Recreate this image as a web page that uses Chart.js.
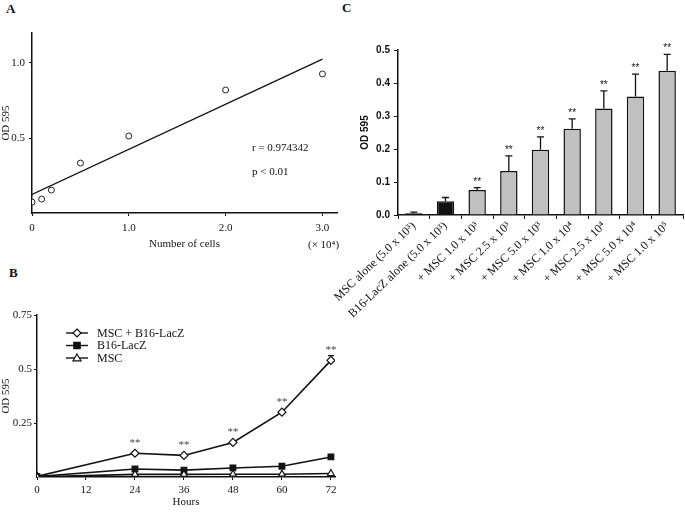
<!DOCTYPE html>
<html>
<head>
<meta charset="utf-8">
<script src="https://cdn.jsdelivr.net/npm/chart.js@4.4.1/dist/chart.umd.min.js"></script>
<style>
  html, body { margin: 0; padding: 0; background: #fff; }
  body { width: 685px; height: 513px; position: relative; overflow: hidden; }
  canvas { position: absolute; }
  .tag { position: absolute; font: bold 13px "Liberation Serif", serif; color: #111; }
</style>
</head>
<body>
<div class="tag" style="left:6px;top:1px">A</div>
<div class="tag" style="left:9px;top:265px">B</div>
<div class="tag" style="left:342px;top:0px">C</div>
<canvas id="chartA" width="345" height="255" style="left:0;top:0"></canvas>
<canvas id="chartB" width="345" height="258" style="left:0;top:255px"></canvas>
<canvas id="chartC" width="365" height="330" style="left:320px;top:0"></canvas>
<script>
// panel A: standard curve
const cellCounts = [0, 0.1, 0.2, 0.5, 1.0, 2.0, 3.0];
const odCells = [0.073, 0.093, 0.153, 0.333, 0.513, 0.82, 0.927];
const cellTicks = [0, 1, 2, 3];
const odTicksA = [0.5, 1.0];

// panel B: time course
const hours = [0, 24, 36, 48, 60, 72];
const odCoculture = [0.003, 0.11, 0.10, 0.16, 0.30, 0.54];
const errCoculture = [0, 0.004, 0.004, 0.012, 0.01, 0.022];
const sigCoculture = ['', '**', '**', '**', '**', '**'];
const odB16 = [0.002, 0.037, 0.032, 0.042, 0.05, 0.093];
const odMSC = [0.001, 0.012, 0.012, 0.013, 0.013, 0.016];
const hourTicks = [0, 12, 24, 36, 48, 60, 72];
const odTicksB = [0.25, 0.5, 0.75];

// panel C: MSC dose
const groupsC = [
  'MSC alone (5.0 x 10³)', 'B16-LacZ alone (5.0 x 10³)',
  '+ MSC 1.0 x 10³', '+ MSC 2.5 x 10³', '+ MSC 5.0 x 10³',
  '+ MSC 1.0 x 10⁴', '+ MSC 2.5 x 10⁴', '+ MSC 5.0 x 10⁴', '+ MSC 1.0 x 10⁵'
];
const odC = [0.005, 0.042, 0.076, 0.133, 0.198, 0.261, 0.323, 0.359, 0.437];
const errC = [0.004, 0.011, 0.007, 0.046, 0.039, 0.03, 0.053, 0.068, 0.05];
const sigC = ['', '', '**', '**', '**', '**', '**', '**', '**'];

const serif = '"Liberation Serif", "Times New Roman", serif';
const sans = '"Liberation Sans", Arial, sans-serif';
Chart.defaults.font.family = serif;
Chart.defaults.color = '#111';
Chart.defaults.animation = false;

// least squares fit for panel A
const n = cellCounts.length;
const mx = cellCounts.reduce((a, b) => a + b, 0) / n;
const my = odCells.reduce((a, b) => a + b, 0) / n;
let sxy = 0, sxx = 0;
for (let i = 0; i < n; i++) {
  sxy += (cellCounts[i] - mx) * (odCells[i] - my);
  sxx += (cellCounts[i] - mx) ** 2;
}
const slope = sxy / sxx, icpt = my - slope * mx;
const fitX = [cellCounts[0], cellCounts[n - 1]];

function axis(opts) {
  return Object.assign({
    border: { display: true, color: '#111', width: 1.5 },
    grid: { drawOnChartArea: false, drawTicks: true, tickLength: 3, color: '#111' }
  }, opts);
}

// error bars and significance marks
const errPlugin = {
  id: 'errStars',
  afterDatasetsDraw(chart) {
    const ctx = chart.ctx, ys = chart.scales.y;
    chart.data.datasets.forEach((ds, i) => {
      if (!ds.err) return;
      const meta = chart.getDatasetMeta(i);
      meta.data.forEach((el, j) => {
        const raw = ds.data[j];
        const v = typeof raw === 'object' ? raw.y : raw;
        const top = ys.getPixelForValue(v + ds.err[j]);
        ctx.save();
        ctx.strokeStyle = '#111';
        ctx.lineWidth = 1.3;
        if (ds.err[j] > 0 && el.y - top > (ds.pointRadius || 0)) {
          ctx.beginPath();
          ctx.moveTo(el.x, el.y - (ds.pointRadius || 0));
          ctx.lineTo(el.x, top);
          ctx.moveTo(el.x - ds.cap, top);
          ctx.lineTo(el.x + ds.cap, top);
          ctx.stroke();
        }
        if (ds.stars && ds.stars[j]) {
          ctx.fillStyle = ds.starColor || '#111';
          ctx.font = ds.starFont;
          ctx.textAlign = 'center';
          ctx.textBaseline = 'alphabetic';
          ctx.fillText(ds.stars[j], el.x, Math.min(top, el.y - (ds.pointRadius || 0)) - 3);
        }
        ctx.restore();
      });
    });
  }
};

// panel A
new Chart(document.getElementById('chartA'), {
  type: 'scatter',
  data: {
    datasets: [
      {
        data: cellCounts.map((x, i) => ({ x, y: odCells[i] })),
        pointStyle: 'circle', pointRadius: 3, pointBackgroundColor: '#fff',
        pointBorderColor: '#222', pointBorderWidth: 1
      },
      {
        type: 'line',
        data: fitX.map(x => ({ x, y: icpt + slope * x })),
        borderColor: '#111', borderWidth: 1.3, pointRadius: 0, fill: false
      }
    ]
  },
  options: {
    responsive: false,
    layout: { padding: { top: 33, right: 8, left: 0, bottom: 0 } },
    plugins: { legend: { display: false }, tooltip: { enabled: false } },
    scales: {
      x: axis({
        type: 'linear', min: 0, max: 3.15,
        afterBuildTicks: s => { s.ticks = cellTicks.map(v => ({ value: v })); },
        afterFit: s => { s.height = 42; },
        ticks: { font: { size: 11 }, padding: 6, maxRotation: 0, callback: v => v === 0 ? '0' : v.toFixed(1) },
        title: { display: true, text: 'Number of cells', font: { size: 11 }, padding: { top: 2 } }
      }),
      y: axis({
        min: 0, max: 1.2,
        afterBuildTicks: s => { s.ticks = odTicksA.map(v => ({ value: v })); },
        afterFit: s => { s.width = 32; },
        ticks: { font: { size: 11 }, padding: 4, callback: v => v.toFixed(1) },
        title: { display: true, text: 'OD 595', font: { size: 11 }, padding: 0 }
      })
    }
  },
  plugins: [{
    id: 'notesA',
    afterDraw(chart) {
      const ctx = chart.ctx;
      ctx.save();
      ctx.fillStyle = '#111';
      ctx.font = '11px ' + serif;
      ctx.textBaseline = 'middle';
      ctx.fillText('r = 0.974342', 252, 148);
      ctx.fillText('p < 0.01', 252, 172);
      ctx.fillText('(× 10⁴)', 308, 245);
      ctx.restore();
    }
  }]
});

// panel B
function drawMarker(ctx, style, x, y, r, fill) {
  ctx.beginPath();
  if (style === 'rectRot') {
    ctx.moveTo(x, y - r); ctx.lineTo(x + r, y); ctx.lineTo(x, y + r); ctx.lineTo(x - r, y);
  } else if (style === 'rect') {
    ctx.rect(x - r * 0.8, y - r * 0.8, r * 1.6, r * 1.6);
  } else {
    ctx.moveTo(x, y - r); ctx.lineTo(x + r, y + r * 0.7); ctx.lineTo(x - r, y + r * 0.7);
  }
  ctx.closePath();
  ctx.fillStyle = fill; ctx.fill();
  ctx.strokeStyle = '#111'; ctx.lineWidth = 1.2; ctx.stroke();
}

const lineB = (label, data, style, fill) => ({
  label, data: hours.map((x, i) => ({ x, y: data[i] })),
  borderColor: '#111', borderWidth: 1.6, tension: 0,
  pointStyle: style, pointRadius: 4, pointBackgroundColor: fill,
  pointBorderColor: '#111', pointBorderWidth: 1.2
});

new Chart(document.getElementById('chartB'), {
  type: 'line',
  data: {
    datasets: [
      lineB('MSC', odMSC, 'triangle', '#fff'),
      lineB('B16-LacZ', odB16, 'rect', '#111'),
      Object.assign(lineB('MSC + B16-LacZ', odCoculture, 'rectRot', '#fff'),
        { err: errCoculture, cap: 3, stars: sigCoculture, starFont: '11px ' + serif, starColor: '#444' })
    ]
  },
  options: {
    responsive: false,
    layout: { padding: { top: 60, right: 10, left: 0, bottom: 0 } },
    plugins: { legend: { display: false }, tooltip: { enabled: false } },
    scales: {
      x: axis({
        type: 'linear', min: 0, max: 73,
        afterBuildTicks: s => { s.ticks = hourTicks.map(v => ({ value: v })); },
        afterFit: s => { s.height = 36; },
        ticks: { font: { size: 11 }, padding: 4, maxRotation: 0 },
        title: { display: true, text: 'Hours', font: { size: 11 }, padding: { top: 0 } }
      }),
      y: axis({
        min: 0, max: 0.75,
        afterBuildTicks: s => { s.ticks = odTicksB.map(v => ({ value: v })); },
        afterFit: s => { s.width = 37; },
        ticks: { font: { size: 11 }, padding: 2, callback: v => String(v) },
        title: { display: true, text: 'OD 595', font: { size: 11 }, padding: 0 }
      })
    }
  },
  plugins: [errPlugin, {
    id: 'legendB',
    afterDraw(chart) {
      const ctx = chart.ctx;
      const order = [2, 1, 0];
      ctx.save();
      order.forEach((di, k) => {
        const ds = chart.data.datasets[di];
        const y = 78 + k * 12.5;
        ctx.strokeStyle = '#111'; ctx.lineWidth = 1.4;
        ctx.beginPath(); ctx.moveTo(66, y); ctx.lineTo(88, y); ctx.stroke();
        drawMarker(ctx, ds.pointStyle, 77, y, 4, ds.pointBackgroundColor);
        ctx.fillStyle = '#111';
        ctx.font = '12px ' + serif;
        ctx.textBaseline = 'middle';
        ctx.fillText(ds.label, 97, y + 0.5);
      });
      ctx.restore();
    }
  }]
});

// panel C
new Chart(document.getElementById('chartC'), {
  type: 'bar',
  data: {
    labels: groupsC,
    datasets: [{
      data: odC,
      backgroundColor: odC.map((v, i) => i < 2 ? '#111' : '#c0c0c0'),
      borderColor: '#111', borderWidth: 1.5,
      barPercentage: 0.55, categoryPercentage: 1,
      err: errC, cap: 3.5, stars: sigC, starFont: '10px ' + sans
    }]
  },
  options: {
    responsive: false,
    layout: { padding: { top: 50, right: 2, left: 0, bottom: 0 } },
    plugins: { legend: { display: false }, tooltip: { enabled: false } },
    scales: {
      x: axis({
        afterFit: s => { s.height = 115; s.paddingLeft = 0; s.paddingRight = 0; },
        grid: { drawOnChartArea: false, drawTicks: true, tickLength: 4, color: '#111', offset: true },
        ticks: { font: { size: 12 }, padding: 0, minRotation: 44, maxRotation: 44, autoSkip: false }
      }),
      y: axis({
        min: 0, max: 0.5,
        afterFit: s => { s.width = 78; },
        grid: { drawOnChartArea: false, drawTicks: true, tickLength: 4, color: '#111' },
        ticks: { stepSize: 0.1, font: { family: sans, size: 10, weight: 'bold' }, padding: 4, callback: v => v.toFixed(1) },
        title: { display: true, text: 'OD 595', font: { family: sans, size: 10, weight: 'bold' }, padding: { top: 39, bottom: 0 } }
      })
    }
  },
  plugins: [errPlugin]
});
</script>
</body>
</html>
